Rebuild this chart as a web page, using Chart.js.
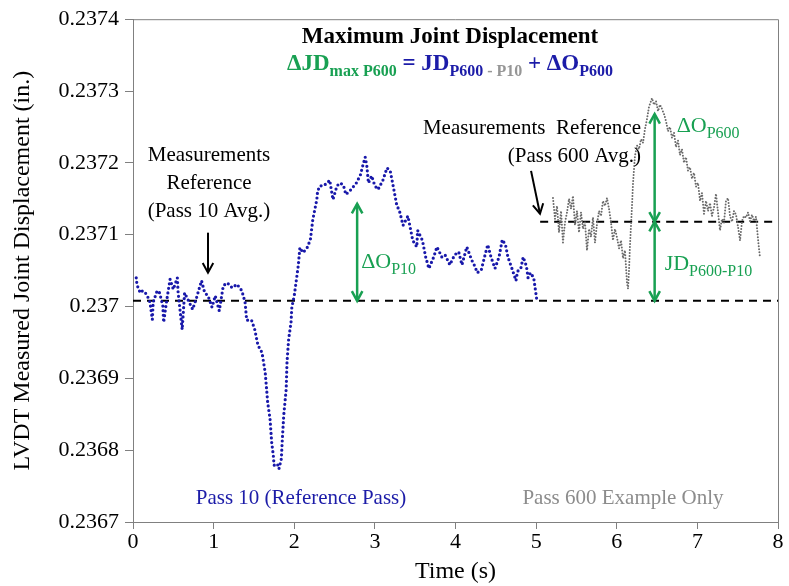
<!DOCTYPE html>
<html>
<head>
<meta charset="utf-8">
<script src="https://cdn.jsdelivr.net/npm/chart.js@4/dist/chart.umd.min.js"></script>
<style>
  html, body { margin: 0; padding: 0; background: #fff; }
  canvas { display: block; }
</style>
</head>
<body>
<canvas id="chart" width="789" height="586"></canvas>
<script>
// Pass 10 (reference pass) LVDT record
const pass10Time = [0.04,0.05,0.09,0.12,0.17,0.21,0.24,0.25,0.30,0.33,0.37,0.38,0.42,0.46,0.50,0.55,0.56,0.61,0.64,0.68,0.74,0.79,0.85,0.89,0.93,0.98,1.02,1.07,1.12,1.17,1.23,1.29,1.35,1.39,1.41,1.47,1.51,1.55,1.60,1.64,1.66,1.67,1.70,1.72,1.74,1.75,1.79,1.81,1.84,1.85,1.87,1.90,1.91,1.93,1.96,1.97,2.00,2.05,2.07,2.11,2.16,2.20,2.23,2.28,2.29,2.32,2.36,2.41,2.44,2.48,2.53,2.57,2.61,2.64,2.69,2.72,2.77,2.82,2.85,2.88,2.90,2.92,2.96,3.00,3.04,3.10,3.15,3.19,3.22,3.27,3.31,3.35,3.41,3.47,3.52,3.53,3.59,3.63,3.67,3.73,3.77,3.83,3.87,3.93,3.99,4.04,4.08,4.14,4.20,4.24,4.27,4.32,4.36,4.40,4.44,4.49,4.54,4.58,4.62,4.65,4.70,4.75,4.77,4.81,4.84,4.88,4.90,4.93,4.97,5.01];
const pass10Disp = [0.237040,0.237030,0.237019,0.237022,0.237017,0.237006,0.236982,0.237006,0.237022,0.237019,0.237001,0.236978,0.237010,0.237038,0.237024,0.237040,0.237019,0.236968,0.237019,0.237010,0.236996,0.237013,0.237036,0.237019,0.237015,0.236999,0.237015,0.236994,0.237029,0.237033,0.237026,0.237031,0.237022,0.237006,0.236981,0.236981,0.236968,0.236946,0.236936,0.236908,0.236881,0.236867,0.236843,0.236811,0.236793,0.236779,0.236781,0.236774,0.236788,0.236811,0.236849,0.236885,0.236922,0.236954,0.236978,0.236999,0.237015,0.237057,0.237082,0.237075,0.237082,0.237093,0.237121,0.237149,0.237161,0.237168,0.237168,0.237172,0.237176,0.237149,0.237168,0.237172,0.237169,0.237156,0.237161,0.237165,0.237172,0.237183,0.237196,0.237208,0.237196,0.237172,0.237182,0.237168,0.237163,0.237176,0.237193,0.237189,0.237172,0.237142,0.237131,0.237113,0.237126,0.237092,0.237083,0.237106,0.237092,0.237069,0.237053,0.237069,0.237083,0.237069,0.237072,0.237058,0.237072,0.237076,0.237058,0.237083,0.237065,0.237056,0.237047,0.237051,0.237069,0.237086,0.237069,0.237053,0.237069,0.237093,0.237086,0.237069,0.237053,0.237036,0.237049,0.237053,0.237069,0.237056,0.237040,0.237047,0.237040,0.237008];

// Pass 600 example record
const pass600Time = [5.209,5.234,5.259,5.284,5.309,5.333,5.358,5.383,5.408,5.433,5.457,5.482,5.507,5.532,5.557,5.581,5.606,5.631,5.656,5.681,5.705,5.730,5.755,5.780,5.805,5.829,5.854,5.879,5.904,5.929,5.953,5.978,6.003,6.028,6.053,6.078,6.102,6.127,6.140,6.152,6.164,6.177,6.189,6.202,6.226,6.251,6.276,6.301,6.326,6.350,6.375,6.400,6.425,6.437,6.462,6.487,6.512,6.536,6.561,6.586,6.611,6.636,6.660,6.685,6.710,6.735,6.760,6.784,6.809,6.834,6.859,6.884,6.908,6.933,6.958,6.983,7.008,7.033,7.057,7.082,7.107,7.132,7.157,7.181,7.206,7.231,7.256,7.281,7.305,7.330,7.355,7.380,7.405,7.430,7.454,7.479,7.504,7.529,7.554,7.578,7.603,7.628,7.653,7.678,7.702,7.727,7.752,7.764,7.777];
const pass600Disp = [0.237151,0.237122,0.237140,0.237103,0.237133,0.237089,0.237117,0.237131,0.237150,0.237136,0.237154,0.237113,0.237133,0.237103,0.237131,0.237108,0.237117,0.237078,0.237108,0.237097,0.237124,0.237089,0.237115,0.237133,0.237126,0.237147,0.237140,0.237151,0.237136,0.237117,0.237092,0.237108,0.237096,0.237081,0.237092,0.237067,0.237078,0.237033,0.237025,0.237050,0.237085,0.237113,0.237140,0.237172,0.237210,0.237224,0.237219,0.237233,0.237228,0.237247,0.237261,0.237278,0.237286,0.237290,0.237281,0.237286,0.237272,0.237281,0.237275,0.237268,0.237258,0.237244,0.237250,0.237235,0.237242,0.237222,0.237231,0.237211,0.237219,0.237200,0.237208,0.237189,0.237194,0.237178,0.237186,0.237167,0.237172,0.237147,0.237158,0.237129,0.237147,0.237133,0.237144,0.237126,0.237138,0.237157,0.237131,0.237106,0.237122,0.237117,0.237147,0.237151,0.237126,0.237118,0.237133,0.237128,0.237111,0.237092,0.237119,0.237126,0.237124,0.237131,0.237119,0.237128,0.237119,0.237125,0.237094,0.237081,0.237068];

// Measurement reference levels (average of each pass)
const pass10Avg = 0.237008;
const pass600Avg = 0.237118;
const pass600RefStart = 5.05;

// Axis ticks
const timeTicks = [0, 1, 2, 3, 4, 5, 6, 7, 8];
const dispTicks = [0.2367, 0.2368, 0.2369, 0.2370, 0.2371, 0.2372, 0.2373, 0.2374];

// Overshoot / displacement markers
const overshootP10 = { t: 2.78, top: 0.237143 };
const overshootP600 = { t: 6.47, top: 0.237268 };

const SERIF = '"Liberation Serif", "Times New Roman", serif';
const GREEN = 'rgb(24,160,82)';
const BLUE = 'rgb(28,28,168)';
const DOT_BLUE = 'rgb(24,24,170)';
const GRAY_DOT = 'rgb(105,105,105)';
const AXIS_GRAY = 'rgb(128,128,128)';

const toXY = (ts, vs) => ts.map((t, i) => ({ x: t, y: vs[i] }));

function drawRich(ctx, segs, x, y, align) {
  // segs: [{t, color, size, bold, sub}]
  let total = 0;
  const widths = segs.map(s => {
    ctx.font = (s.bold ? 'bold ' : '') + s.size + 'px ' + SERIF;
    const w = ctx.measureText(s.t).width;
    total += w;
    return w;
  });
  let cx = align === 'center' ? x - total / 2 : (align === 'right' ? x - total : x);
  ctx.textBaseline = 'alphabetic';
  ctx.textAlign = 'left';
  segs.forEach((s, i) => {
    ctx.font = (s.bold ? 'bold ' : '') + s.size + 'px ' + SERIF;
    ctx.fillStyle = s.color;
    ctx.fillText(s.t, cx, y + (s.sub ? s.size * 0.35 : 0));
    cx += widths[i];
  });
}

function arrowHead(ctx, x0, y0, x1, y1, len, spread) {
  const a = Math.atan2(y1 - y0, x1 - x0);
  ctx.beginPath();
  ctx.moveTo(x1 - len * Math.cos(a - spread), y1 - len * Math.sin(a - spread));
  ctx.lineTo(x1, y1);
  ctx.lineTo(x1 - len * Math.cos(a + spread), y1 - len * Math.sin(a + spread));
  ctx.stroke();
}

function arrow(ctx, x0, y0, x1, y1, color, width, both) {
  ctx.save();
  ctx.strokeStyle = color;
  ctx.lineWidth = width;
  ctx.lineCap = 'butt';
  ctx.lineJoin = 'miter';
  ctx.beginPath();
  ctx.moveTo(x0, y0);
  ctx.lineTo(x1, y1);
  ctx.stroke();
  arrowHead(ctx, x0, y0, x1, y1, 11, 0.5);
  if (both) arrowHead(ctx, x1, y1, x0, y0, 11, 0.5);
  ctx.restore();
}

const notes = {
  id: 'notes',
  afterDatasetsDraw(chart) {
    const { ctx, chartArea: ca, scales } = chart;
    const X = v => scales.x.getPixelForValue(v);
    const Y = v => scales.y.getPixelForValue(v);
    ctx.save();

    // frame: top and right edges
    ctx.strokeStyle = AXIS_GRAY;
    ctx.lineWidth = 1;
    ctx.beginPath();
    ctx.moveTo(ca.left, ca.top + 0.5);
    ctx.lineTo(ca.right + 0.5, ca.top + 0.5);
    ctx.lineTo(ca.right + 0.5, ca.bottom);
    ctx.stroke();

    // title
    ctx.textAlign = 'center';
    ctx.fillStyle = '#000';
    ctx.font = 'bold 23px ' + SERIF;
    ctx.textBaseline = 'alphabetic';
    ctx.fillText('Maximum Joint Displacement', 450, 43);
    drawRich(ctx, [
      { t: '\u0394JD', color: GREEN, size: 23, bold: true },
      { t: 'max P600', color: GREEN, size: 16, bold: true, sub: true },
      { t: ' = ', color: BLUE, size: 23, bold: true },
      { t: 'JD', color: BLUE, size: 23, bold: true },
      { t: 'P600', color: BLUE, size: 16, bold: true, sub: true },
      { t: ' - P10', color: 'rgb(150,150,150)', size: 16, bold: true, sub: true },
      { t: ' + ', color: BLUE, size: 23, bold: true },
      { t: '\u0394O', color: BLUE, size: 23, bold: true },
      { t: 'P600', color: BLUE, size: 16, bold: true, sub: true }
    ], 450, 70, 'center');

    // reference notes
    ctx.fillStyle = '#000';
    ctx.font = '21px ' + SERIF;
    ctx.textAlign = 'center';
    ctx.fillText('Measurements', 209, 161);
    ctx.fillText('Reference', 209, 189);
    ctx.fillText('(Pass 10 Avg.)', 209, 217);
    ctx.textAlign = 'right';
    ctx.fillText('Measurements  Reference', 641, 134);
    ctx.fillText('(Pass 600 Avg.)', 641, 162);

    arrow(ctx, X(0.93), Y(0.2371028), X(0.93), Y(0.2370472), '#000', 2, false);
    arrow(ctx, X(4.937), Y(0.2371889), X(5.048), Y(0.2371292), '#000', 2, false);

    // overshoot and displacement arrows
    arrow(ctx, X(overshootP10.t), Y(overshootP10.top), X(overshootP10.t), Y(pass10Avg), GREEN, 2.5, true);
    arrow(ctx, X(overshootP600.t), Y(overshootP600.top), X(overshootP600.t), Y(pass600Avg), GREEN, 2.5, true);
    arrow(ctx, X(overshootP600.t), Y(pass600Avg), X(overshootP600.t), Y(pass10Avg), GREEN, 2.5, true);

    drawRich(ctx, [
      { t: '\u0394O', color: GREEN, size: 22 },
      { t: 'P10', color: GREEN, size: 16, sub: true }
    ], X(overshootP10.t) + 4, 268, 'left');
    drawRich(ctx, [
      { t: '\u0394O', color: GREEN, size: 22 },
      { t: 'P600', color: GREEN, size: 16, sub: true }
    ], X(overshootP600.t) + 22, 132, 'left');
    drawRich(ctx, [
      { t: 'JD', color: GREEN, size: 22 },
      { t: 'P600-P10', color: GREEN, size: 16, sub: true }
    ], X(overshootP600.t) + 10, 270, 'left');

    // pass labels
    ctx.font = '21px ' + SERIF;
    ctx.textAlign = 'center';
    ctx.fillStyle = BLUE;
    ctx.fillText('Pass 10 (Reference Pass)', 301, 504);
    ctx.fillStyle = 'rgb(140,140,140)';
    ctx.fillText('Pass 600 Example Only', 623, 504);

    ctx.restore();
  }
};

new Chart(document.getElementById('chart'), {
  type: 'scatter',
  data: {
    datasets: [
      {
        label: 'Pass 10',
        data: toXY(pass10Time, pass10Disp),
        showLine: true,
        borderColor: DOT_BLUE,
        borderWidth: 3.2,
        borderDash: [0, 4.6],
        borderCapStyle: 'round',
        pointRadius: 0,
        tension: 0
      },
      {
        label: 'Pass 600',
        data: toXY(pass600Time, pass600Disp),
        showLine: true,
        borderColor: GRAY_DOT,
        borderWidth: 2,
        borderDash: [0, 3],
        borderCapStyle: 'round',
        pointRadius: 0,
        tension: 0
      },
      {
        label: 'Pass 10 Avg.',
        data: [{ x: 0, y: pass10Avg }, { x: 8, y: pass10Avg }],
        showLine: true,
        borderColor: '#000',
        borderWidth: 2,
        borderDash: [8, 6],
        pointRadius: 0
      },
      {
        label: 'Pass 600 Avg.',
        data: [{ x: pass600RefStart, y: pass600Avg }, { x: 8, y: pass600Avg }],
        showLine: true,
        borderColor: '#000',
        borderWidth: 2,
        borderDash: [8, 6],
        pointRadius: 0
      }
    ]
  },
  options: {
    responsive: false,
    animation: false,
    devicePixelRatio: 1,
    layout: { padding: { top: 18, right: 11, left: 0, bottom: 0 } },
    plugins: { legend: { display: false }, tooltip: { enabled: false } },
    scales: {
      x: {
        type: 'linear',
        min: 0, max: 8,
        afterBuildTicks: s => { s.ticks = timeTicks.map(v => ({ value: v })); },
        afterFit: s => { s.height = 64; },
        grid: { drawOnChartArea: false, drawTicks: true, tickLength: 7, color: AXIS_GRAY },
        border: { color: AXIS_GRAY, width: 1 },
        ticks: { color: '#000', font: { family: SERIF, size: 22 }, padding: 0, maxRotation: 0 },
        title: { display: true, text: 'Time (s)', color: '#000', font: { family: SERIF, size: 24 }, padding: { top: -6, bottom: 0 } }
      },
      y: {
        type: 'linear',
        min: 0.2367, max: 0.2374,
        afterBuildTicks: s => { s.ticks = dispTicks.map(v => ({ value: v })); },
        afterFit: s => { s.width = 133; },
        grid: { drawOnChartArea: false, drawTicks: true, tickLength: 8, color: AXIS_GRAY },
        border: { color: AXIS_GRAY, width: 1 },
        ticks: {
          color: '#000', font: { family: SERIF, size: 22 }, padding: 6,
          callback: v => String(Number(v.toFixed(4)))
        },
        title: { display: true, text: 'LVDT Measured Joint Displacement (in.)', color: '#000', font: { family: SERIF, size: 24 }, padding: { top: 8, bottom: 0 } }
      }
    }
  },
  plugins: [notes]
});
</script>
</body>
</html>
